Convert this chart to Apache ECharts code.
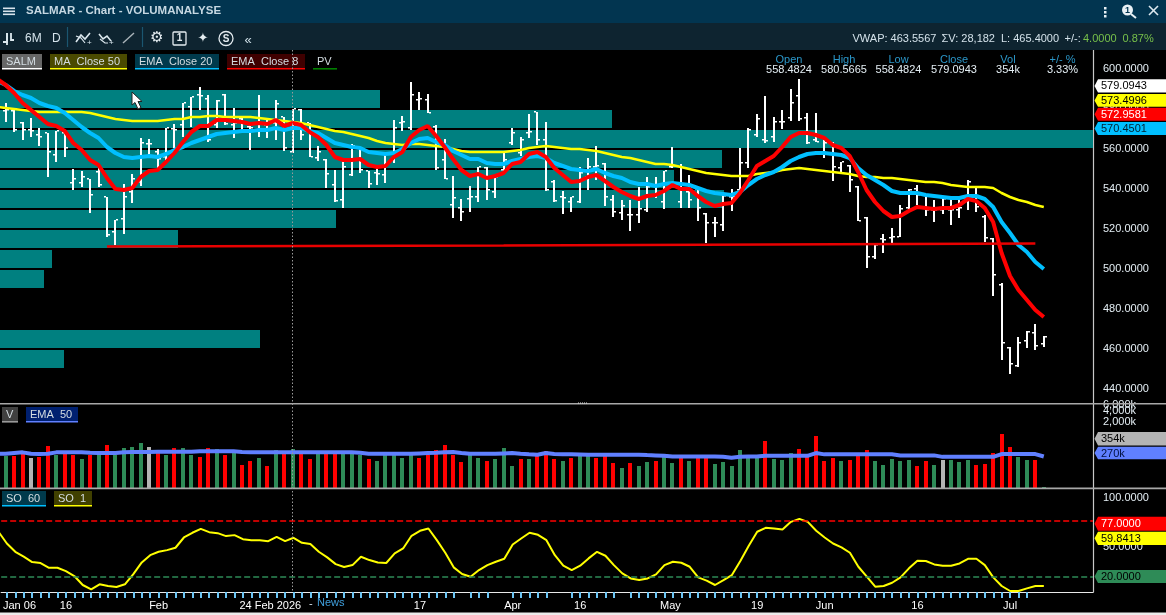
<!DOCTYPE html>
<html><head><meta charset="utf-8"><style>html,body{margin:0;padding:0;background:#000}#c{width:1166px;height:615px}</style>
<script src="https://cdn.jsdelivr.net/npm/echarts@6/dist/echarts.min.js"></script></head><body><div id="c"></div>
<script>
const priceTicks=[600,580,560,540,520,500,480,460,440];
const volTicks=[2000,4000];
const soTicks=[100,50];
const high=[583,580,573.5,575.5,570.5,568,569,568.5,550,549,545,551,536,524.5,542.5,547.5,565.5,565,560,570.5,572.5,583,586,591,587,584.5,587.5,580.5,575.5,573,587,574.5,584.5,576,580,580,573,561.5,555,549.5,554.5,562.5,560,549,550.5,558,574.5,576.5,593.5,588.5,587.5,572,565,546.5,535,541.5,551,551,546,558,570.5,566,577.5,578.5,573.5,544.5,539,536,551,555.5,561.5,553,537,534.5,534.5,541,546,546,549,561,552.5,547,540.5,528,526,537,540,560.5,570.5,577.5,586.5,576,579.5,590,595,578,578,564.5,563.5,553.5,552,541.5,526,512,517.5,520.5,532,540,542,537,534.5,535.5,535,535.5,544.5,541,527,515.5,493,461,466,469,472.5,466.5];
const low=[573.5,568.5,564.5,566,561.5,546,553.5,556,539.5,541,528,541,516,512,517.5,533,541.5,557,550.5,554.5,560.5,566,571,579.5,563.5,570.5,572,565.5,568.5,559.5,566,565.5,564.5,559,558,564.5,556,554,540.5,533.5,530.5,546.5,548,540.5,542,543,553,569,569.5,579.5,578,549.5,545,525.5,524,528.5,533.5,534.5,535.5,548,562,556.5,565.5,562,539,533.5,527.5,528.5,533,539.5,544.5,531.5,526,524.5,519,523,528.5,535.5,530,550.5,530.5,530.5,524,513,516,519,529,538.5,550.5,566,563,563.5,570,574,574,562.5,563.5,555.5,544,548,538.5,524,500.5,505,508,512,516,530,532,526.5,523.5,527.5,522,525.5,529.5,528.5,513.5,486.5,454.5,447.5,451,460.5,459.5,461];
const open=[579,579,573,569.5,567,568,557,568,543,543,545,548.5,536,518.5,525,538.5,543.5,562.5,558.5,556,570,572,581,587,585,572,587,572,575,571,573,572,573,576,558.5,579.5,573,555.5,554.5,542,534.5,547,554.5,549,548,547,554.5,573,570.5,584.5,584.5,571,554.5,532,530.5,535,536,550.5,538.5,549.5,563,558,568,578.5,564.5,543.5,536,533.5,533.5,546,551,552.5,534.5,528,527,527,529.5,537,533.5,551,533.5,538.5,540,527.5,523,522,536,539.5,553,567,564.5,566,573.5,575.5,586.5,575.5,564.5,558.5,563,550.5,551.5,541,525.5,506,515,515.5,516,530.5,540,537,529.5,529.5,529.5,529.5,535.5,541,526,515,492,460.5,451.5,464,468,462.5];
const close=[579.5,569.5,569.5,569,566,558.5,569,560.5,545,546,537,542,517,524.5,536,545,563,562.5,555,570.5,569.5,583,586,586.5,564.5,584,572.5,573,573,570.5,573,573,582.5,560.5,580,567,556,558.5,547.5,534,551,561.5,549.5,542.5,547.5,557.5,570.5,573.5,587,585,578,550.5,545,535.5,528.5,536,551,539.5,546,554.5,568,564.5,568.5,564.5,539.5,534,535.5,536,548,551,551.5,536,528.5,531.5,527,530,541,537.5,549,551.5,542.5,534.5,530.5,523,523,536.5,536,553,569.5,575,564,573.5,573.5,583,575,563,563.5,563,551,553.5,544.5,524,506,512,514.5,516,530,539.5,537,529.5,529.5,535,529.5,530.5,543.5,531,515.5,497,463,452.5,463,468.5,461.5,466];
const maClose50=[581,580.5,580,579.5,579,578.5,578.5,578.5,578.5,578.5,578.5,578,577,576,575,574.5,574,574,574,574,574.5,575,575,576,576,576.5,576.5,576,576,576,576,575.5,575,574.5,574,573.5,573,572,571,570,569,568.5,567.5,566.5,565.5,564,563,562.5,562,562.5,562.5,562,561.5,561,560,559,558.5,558.5,558.5,558.5,558.5,559,559.5,560.5,561,561.5,561,560.5,560,560,559.5,559,558,557,556,555.5,554.5,553.5,552.5,552.5,552,551,550,549,548,547.5,547,546.5,546.5,546.5,547.5,548,548.5,549.5,550,550.5,550,549.5,549,548.5,548,547.5,546.5,546,546,545.5,545.5,545,544.5,544,543.5,543.5,543,542,541.5,541,541,541,540.5,538,536,534.5,533.5,532,531];
const emaClose20=[594,592,589,587,585.5,583,581.5,580.5,578,574.5,571,568,565.5,561,558,556,555.5,556,556.5,556,557.5,559.5,561,563,564.5,566,567.5,568,568.5,569,569,569.5,569.5,570.5,569.5,570.5,570.5,569,568,565.5,563,562,561,560.5,558.5,558,557.5,558,560,563,565,565.5,563.5,562,559,557,555,555,553,552.5,552.5,554,555,556,556.5,555.5,553,551.5,550,549.5,549,550,548,546.5,545.5,543.5,542.5,542.5,541.5,542.5,543,542.5,542,540.5,539,538,537.5,537,538.5,542,545,547,548.5,551,554,556,557.5,558,558,557.5,557,555.5,550.5,547,544.5,542,539,538,538,538,537,536.5,536,535.5,535.5,536.5,536.5,535,531,523.5,518,512,508.5,503.5,500];
const emaClose8=[595,592,588,583,579.5,576,572.5,571.5,569,563,559.5,554.5,552,545.5,540,539.5,540.5,546,549,549.5,553.5,558,563.5,568.5,571.5,571.5,574.5,574.5,574,573.5,572.5,573,572.5,574.5,571.5,573,572,568.5,566,562,556,554.5,554.5,555,552,551,551.5,556,558.5,566,569.5,571.5,566.5,561,555,549.5,546.5,547.5,545.5,546.5,548,552.5,553.5,557.5,558.5,556,550.5,547,543.5,544,546,547,544,541,538.5,536.5,535,536.5,537,539,542,540,540,536.5,533.5,531.5,532.5,533,538,544.5,551.5,554,556.5,561,566,568,568,567,565.5,562,560.5,556.5,548.5,539.5,533.5,529,526,526.5,529,531,530.5,530,530.5,530.5,532,535,534,530.5,523.5,508,496.5,489.5,484.5,479.5,476];
const supportLine=[[12,511.2],[59,511.8],[122,512.8]];
const pvPrice=[585,575,565,555,545,535,525,515,505,495,465,455];
const pvVolume=[380,612,1093,722,674,724,336,178,52,44,260,64];
const volume=[240,240,329,211,225,452,255,329,255,198,255,255,482,255,398,424,547,424,309,255,398,398,255,225,398,374,255,309,136,175,211,128,351,290,374,290,198,290,290,290,290,290,255,198,175,255,255,211,255,211,255,351,482,255,164,255,211,175,198,398,128,198,198,255,329,198,175,211,255,255,211,255,154,113,154,128,164,175,255,154,255,175,255,255,145,164,128,351,255,255,621,198,186,290,374,255,850,175,211,175,186,255,351,175,136,198,175,186,128,175,136,186,186,164,186,136,145,290,965,424,225,186,186,34];
const volumeTone=("grrxrrgrrg"+"rgrggggxrg"+"rggrrgrgrr"+"grgrgrrgrr"+"gggrgggggr"+"rrrrrggrgg"+"grgrrrgrgg"+"rrrgrggrgg"+"rgrrgggggg"+"rgggrrrrrg"+"rrrgggggrr"+"gxgggrrrrr"+"ggrg");
const volumeEma50=[276,276,290,303,276,272,276,303,303,303,303,295,290,290,290,303,309,309,309,315,315,315,315,315,323,323,323,323,323,309,303,303,303,303,303,303,303,303,303,303,303,303,303,295,276,276,276,276,276,276,283,290,295,303,309,290,276,276,276,276,283,290,276,267,261,290,272,267,267,265,261,261,261,261,261,261,261,255,250,244,233,233,233,233,233,233,228,217,228,233,233,244,244,244,244,244,244,290,267,267,267,267,267,267,267,267,267,250,250,250,250,250,228,228,228,228,228,228,228,272,272,272,272,272,233];
const so1=[66,54,45.6,40.6,35.2,34.2,29.4,29.4,26,21,11.9,7.5,12.6,10.9,9.9,12.6,23,34.8,42.2,45.6,47.3,49.7,60.1,64.9,68.9,65.5,64.5,61.5,62.5,58.4,57.4,57.4,56.4,60.8,56.4,59.8,54.7,53.4,45.6,39.9,33.1,30.1,32.1,40.6,37.2,34.8,34.2,43.9,49,61.8,66.9,69.2,57.4,44.6,29.8,23,20.3,27.1,32.1,35.5,38.5,53,59.1,64.9,62.8,57.4,42.2,31.5,27.1,31.5,38.9,45.6,41.6,32.1,23.7,18.6,16.9,18.6,22.7,32.1,35.5,34.5,30.4,19.6,16.3,11.9,16.9,22,36.2,51.7,65.9,69.9,69.2,68.2,76,79,76,66.9,60.1,54,50,44.6,30.4,20.3,10.2,10.9,14.2,19.6,28.8,36.5,36.2,32.8,31.5,31.5,33.8,38.5,38.5,32.1,19.6,10.9,5.8,5.8,8.5,10.9,10.9];
const overbought=77, oversold=20;
const tickLabels={1.5:'Jan 06',7:'16',18:'Feb',31.25:'24 Feb 2026',49:'17',60:'Apr',68:'16',78.7:'May',89:'19',97:'Jun',108:'16',119:'Jul'};
const missingTicks=[54,58,59,65,66,73];

const labelValues=Object.keys(tickLabels).map(Number);
const tickValues=Array.from({length:122},(_,i)=>i).filter(i=>!missingTicks.includes(i));
const FONT='"Liberation Sans"';
const toneColor={r:'#ff0000',g:'#2e8b57',x:'#b4b4b4'};
const ohlc=high.map((h,i)=>[i,open[i],close[i],low[i],h]);
const volData=volume.map((v,i)=>[i,v,volumeTone[i]]);
const lineOf=a=>a.map((v,k)=>[k-1,v]);
const pv=pvPrice.map((p,i)=>[pvVolume[i],p]);

const gr=[];
const R=(x,y,w,h,c)=>gr.push({type:'rect',silent:true,z:50,shape:{x,y,width:w,height:h},style:{fill:c}});
const T=(x,y,s,o={})=>gr.push({type:'text',silent:true,z:o.z||51,x,y,style:{text:s,fill:o.c||'#d4e2ea',font:(o.w||'normal')+' '+(o.s||11)+'px '+(o.f||FONT),textAlign:o.a||'left',textVerticalAlign:'middle'}});
const L=(pts,c,w,d)=>gr.push({type:'polyline',silent:true,z:51,shape:{points:pts},style:{stroke:c,lineWidth:w||1,fill:null,lineDash:d}});
const P=(pts,c,s)=>gr.push({type:'polygon',silent:true,z:52,shape:{points:pts},style:{fill:c,stroke:s||null}});
const tag=(y0,y1,c,s,tc)=>{gr.push({type:'polygon',silent:true,z:50,shape:{points:[[1094.5,(y0+y1)/2],[1098,y0],[1166,y0],[1166,y1],[1098,y1]]},style:{fill:c}});T(1101,(y0+y1)/2+.5,s,{c:tc});};
const chip=(x,w,y,bg,ul,s,tc)=>{if(bg)R(x,y,w,14,bg);R(x,y+14,w,1.6,ul);T(x+4,y+7.5,s,{c:tc||'#d4dde2'});};

// chrome
R(0,0,1166,23,'#023550');R(0,23,1166,27,'#0e2430');R(0,612.5,1166,2.5,'#ececec');
[8,11,14].forEach(y=>R(3,y-.5,12,1.6,'#d8e4ec'));
T(26,10.5,'SALMAR - Chart - VOLUMANALYSE',{w:'bold',s:11.5,c:'#c6d8e2'});
[7,11,15].forEach(y=>R(1104,y,2.5,2.5,'#e8f0f4'));
gr.push({type:'circle',silent:true,z:51,shape:{cx:1127.5,cy:10,r:5.5},style:{fill:'#e8f0f4'}});L([[1131,14],[1136,18]],'#e8f0f4',2);T(1127.5,10.5,'1',{c:'#023550',s:9,w:'bold',a:'center'});
L([[1149,6],[1158,15]],'#dce8ee',1.6);L([[1158,6],[1149,15]],'#dce8ee',1.6);
L([[3,42],[7,42],[7,33]],'#dce8ee',1.8);L([[7,33],[7,45]],'#dce8ee',1.8);L([[11,33],[11,40],[14,40]],'#dce8ee',1.8);
T(25,39,'6M',{s:12});T(52,39,'D',{s:12});
L([[67.5,27],[67.5,47]],'#1b5670',1.2);L([[142.5,27],[142.5,47]],'#1b5670',1.2);
L([[76,42],[81,35],[85,39],[90,33]],'#dce8ee',1.6);L([[76,36],[81,38],[85,43]],'#dce8ee',1.2);T(87,43,'+',{s:8});
L([[99,34],[103,39],[107,36],[111,41]],'#dce8ee',1.6);L([[100,39],[105,43],[108,43]],'#dce8ee',1.2);T(109,43,'+',{s:8});
L([[123,43],[134,33]],'#aab4ba',1.4);
T(157,38.5,'⚙',{s:15,a:'center',f:'"DejaVu Sans"',c:'#e4ecf0'});
gr.push({type:'rect',silent:true,z:51,shape:{x:173,y:32,width:13,height:13,r:1},style:{fill:null,stroke:'#e4ecf0',lineWidth:1.3}});T(179.5,38.5,'1',{s:10,a:'center',w:'bold',c:'#e4ecf0'});
T(203,38.5,'✦',{s:13,a:'center',f:'"DejaVu Sans"',c:'#e4ecf0'});
gr.push({type:'circle',silent:true,z:51,shape:{cx:226,cy:38.5,r:7},style:{fill:null,stroke:'#e4ecf0',lineWidth:1.3}});T(226,39,'S',{s:10,a:'center',w:'bold',c:'#e4ecf0'});
T(248,40,'«',{s:13,a:'center',c:'#cfe0e8'});
T(852.5,38.5,'VWAP: 463.5567');T(941.5,38.5,'ΣV: 28,182');T(1001,38.5,'L: 465.4000');T(1064.5,38.5,'+/-:');T(1083,38.5,'4.0000',{c:'#77c04a'});T(1122.5,38.5,'0.87%',{c:'#77c04a'});
// legends
chip(2,40,54,'#666666','#ffffff','SALM');chip(50,77,54,'#4a4a00','#ffff00','MA  Close 50');chip(135,84,54,'#003a4c','#00bfff','EMA  Close 20');chip(227,78,54,'#3f0000','#ff0000','EMA  Close 8');chip(313,24,54,null,'#008000','PV');
chip(2,16,407,'#404040','#999999','V');chip(26,52,407,'#002070','#6080ff','EMA  50');
chip(2,44,491,'#003a4c','#00bfff','SO  60');chip(54,38,491,'#404000','#ffff00','SO  1');
// header stats
[['Open','558.4824',789],['High','580.5665',844],['Low','558.4824',898.5],['Close','579.0943',954],['Vol','354k',1008],['+/- %','3.33%',1062.5]].forEach(a=>{T(a[2],59.5,a[0],{a:'center',c:'#2b97c9',z:52});T(a[2],69.5,a[1],{a:'center',c:'#e4eef4',z:52});});
// top label of the volume scale, cut by the pane border
T(1103,405,'6,000k',{c:'#e4eef4',z:49});
// separators / crosshair
R(0,403,1166,1.6,'#a8a8a8');R(0,487.6,1166,1.6,'#a8a8a8');
L([[292.5,50],[292.5,592]],'#9a9a9a',1,[1.5,2]);
[0,1,2,3,4].forEach(i=>R(578+i*2,402.5,1,1,'#e0e0e0'));
P([[132,92],[132,105],[135,102.5],[138,109],[141,107.5],[138,101.5],[142,101.5]],'#ffffff','#222');
// right tags
tag(79.3,92.5,'#ffffff','579.0943','#000');tag(94,106.8,'#ffff00','573.4996','#000');tag(107.8,120.8,'#ff0000','572.9581','#fff');tag(122,135,'#00bfff','570.4501','#002030');
tag(432,445.5,'#b4b4b4','354k','#000');tag(446.7,459.3,'#6080ff','270k','#001040');
tag(516.7,530.7,'#ff0000','77.0000','#fff');tag(531.7,545,'#ffff00','59.8413','#000');tag(570,583,'#2e8b57','20.0000','#000');
// news
T(309,603.5,'-',{c:'#d8e4ec'});T(317,602.5,'News',{c:'#3f9fdc',s:11});

const yLabel={color:'#e4eef4',fontFamily:FONT,fontSize:11,margin:10};
const axLine={show:true,onZero:false,lineStyle:{color:'#c8c8c8',width:1.2}};
const X=(g,show)=>({type:'value',gridIndex:g,min:-0.6754,max:128.83,show,
 axisLine:{show,onZero:false,lineStyle:{color:'#e8e8e8',width:1.2}},splitLine:{show:false},
 axisTick:{show,length:6,customValues:tickValues,lineStyle:{color:'#6cc6f5',width:2}},
 axisLabel:{show,customValues:labelValues,hideOverlap:false,color:'#ffffff',fontFamily:FONT,fontSize:11,margin:8,formatter:v=>tickLabels[v]||''}});
const option={
 animation:false,backgroundColor:'#000',
 grid:[{left:0,width:1093,top:50,height:353},{left:0,width:1093,top:404,height:84},{left:0,width:1093,top:489,height:103}],
 xAxis:[X(0,false),X(1,false),X(2,true),{type:'value',gridIndex:0,min:0,max:1093,show:false}],
 yAxis:[
  {type:'value',gridIndex:0,position:'right',min:433,max:609.5,scale:true,splitLine:{show:false},axisTick:{show:false},axisLine:axLine,
   axisLabel:Object.assign({customValues:priceTicks,formatter:v=>v.toFixed(4)},yLabel)},
  {type:'log',logBase:10,gridIndex:1,position:'right',min:32,max:6390,splitLine:{show:false},axisTick:{show:false},axisLine:axLine,
   axisLabel:Object.assign({customValues:volTicks,formatter:v=>Math.round(v).toLocaleString('en-US')+'k'},yLabel)},
  {type:'value',gridIndex:2,position:'right',min:4.8,max:109.3,scale:true,splitLine:{show:false},axisTick:{show:false},axisLine:axLine,
   axisLabel:Object.assign({customValues:soTicks,formatter:v=>v.toFixed(4)},yLabel)}
 ],
 graphic:{elements:gr},
 series:[
  {type:'custom',name:'PV',xAxisIndex:3,yAxisIndex:0,z:1,silent:true,clip:true,data:pv,encode:{x:0,y:1},
   renderItem(p,api){const a=api.coord([0,api.value(1)+4.5]),b=api.coord([api.value(0),api.value(1)-4.5]);
    return {type:'rect',shape:{x:a[0],y:Math.round(a[1]),width:b[0]-a[0],height:Math.round(b[1]-a[1])},style:{fill:'#008080'}};}},
  {type:'custom',name:'SALM',xAxisIndex:0,yAxisIndex:0,z:2,silent:true,clip:true,data:ohlc,encode:{x:0,y:[1,2,3,4]},
   renderItem(p,api){const k=api.value(0),x=Math.round(api.coord([k,500])[0]);
    const y=d=>Math.round(api.coord([k,api.value(d)])[1]);const o=y(1),c=y(2),l=y(3),h=y(4);
    const r=(a,b,w,hh)=>({type:'rect',shape:{x:a,y:b,width:w,height:hh},style:{fill:'#ffffff'}});
    return {type:'group',children:[r(x-1,h,2,l-h),r(x-3,o-1,2,1.5),r(x+1,c-1,2,1.5)]};}},
  {type:'line',name:'MA Close 50',xAxisIndex:0,yAxisIndex:0,z:3,symbol:'none',silent:true,data:lineOf(maClose50),lineStyle:{color:'#ffff00',width:2.5}},
  {type:'line',name:'EMA Close 20',xAxisIndex:0,yAxisIndex:0,z:4,symbol:'none',silent:true,data:lineOf(emaClose20),lineStyle:{color:'#00bfff',width:4}},
  {type:'line',name:'EMA Close 8',xAxisIndex:0,yAxisIndex:0,z:5,symbol:'none',silent:true,data:lineOf(emaClose8),lineStyle:{color:'#ff0000',width:4}},
  {type:'line',name:'Support',xAxisIndex:0,yAxisIndex:0,z:6,symbol:'none',silent:true,data:supportLine,lineStyle:{color:'#e80000',width:2.5}},
  {type:'custom',name:'V',xAxisIndex:1,yAxisIndex:1,z:2,silent:true,clip:true,data:volData,encode:{x:0,y:1},
   renderItem(p,api){const k=api.value(0),t=api.coord([k,api.value(1)]),b=api.coord([k,32]);
    return {type:'rect',shape:{x:Math.round(t[0])-2,y:Math.round(t[1]),width:4,height:Math.round(b[1]-t[1])},style:{fill:toneColor[api.value(2)]}};},
   dimensions:['k','v',{name:'tone',type:'ordinal'}]},
  {type:'line',name:'EMA 50',xAxisIndex:1,yAxisIndex:1,z:3,symbol:'none',silent:true,data:lineOf(volumeEma50),lineStyle:{color:'#6080ff',width:4}},
  {type:'line',name:'SO 1',xAxisIndex:2,yAxisIndex:2,z:3,symbol:'none',silent:true,data:lineOf(so1),lineStyle:{color:'#ffff00',width:2},
   markLine:{silent:true,symbol:'none',label:{show:false},animation:false,data:[
    {yAxis:overbought,lineStyle:{color:'#ff0000',type:[6,3],width:1.6}},{yAxis:oversold,lineStyle:{color:'#2e8b57',type:[6,3],width:1.6}}]}}
 ]};
const chart=echarts.init(document.getElementById('c'),null,{renderer:'canvas'});
chart.setOption(option);
</script></body></html>
